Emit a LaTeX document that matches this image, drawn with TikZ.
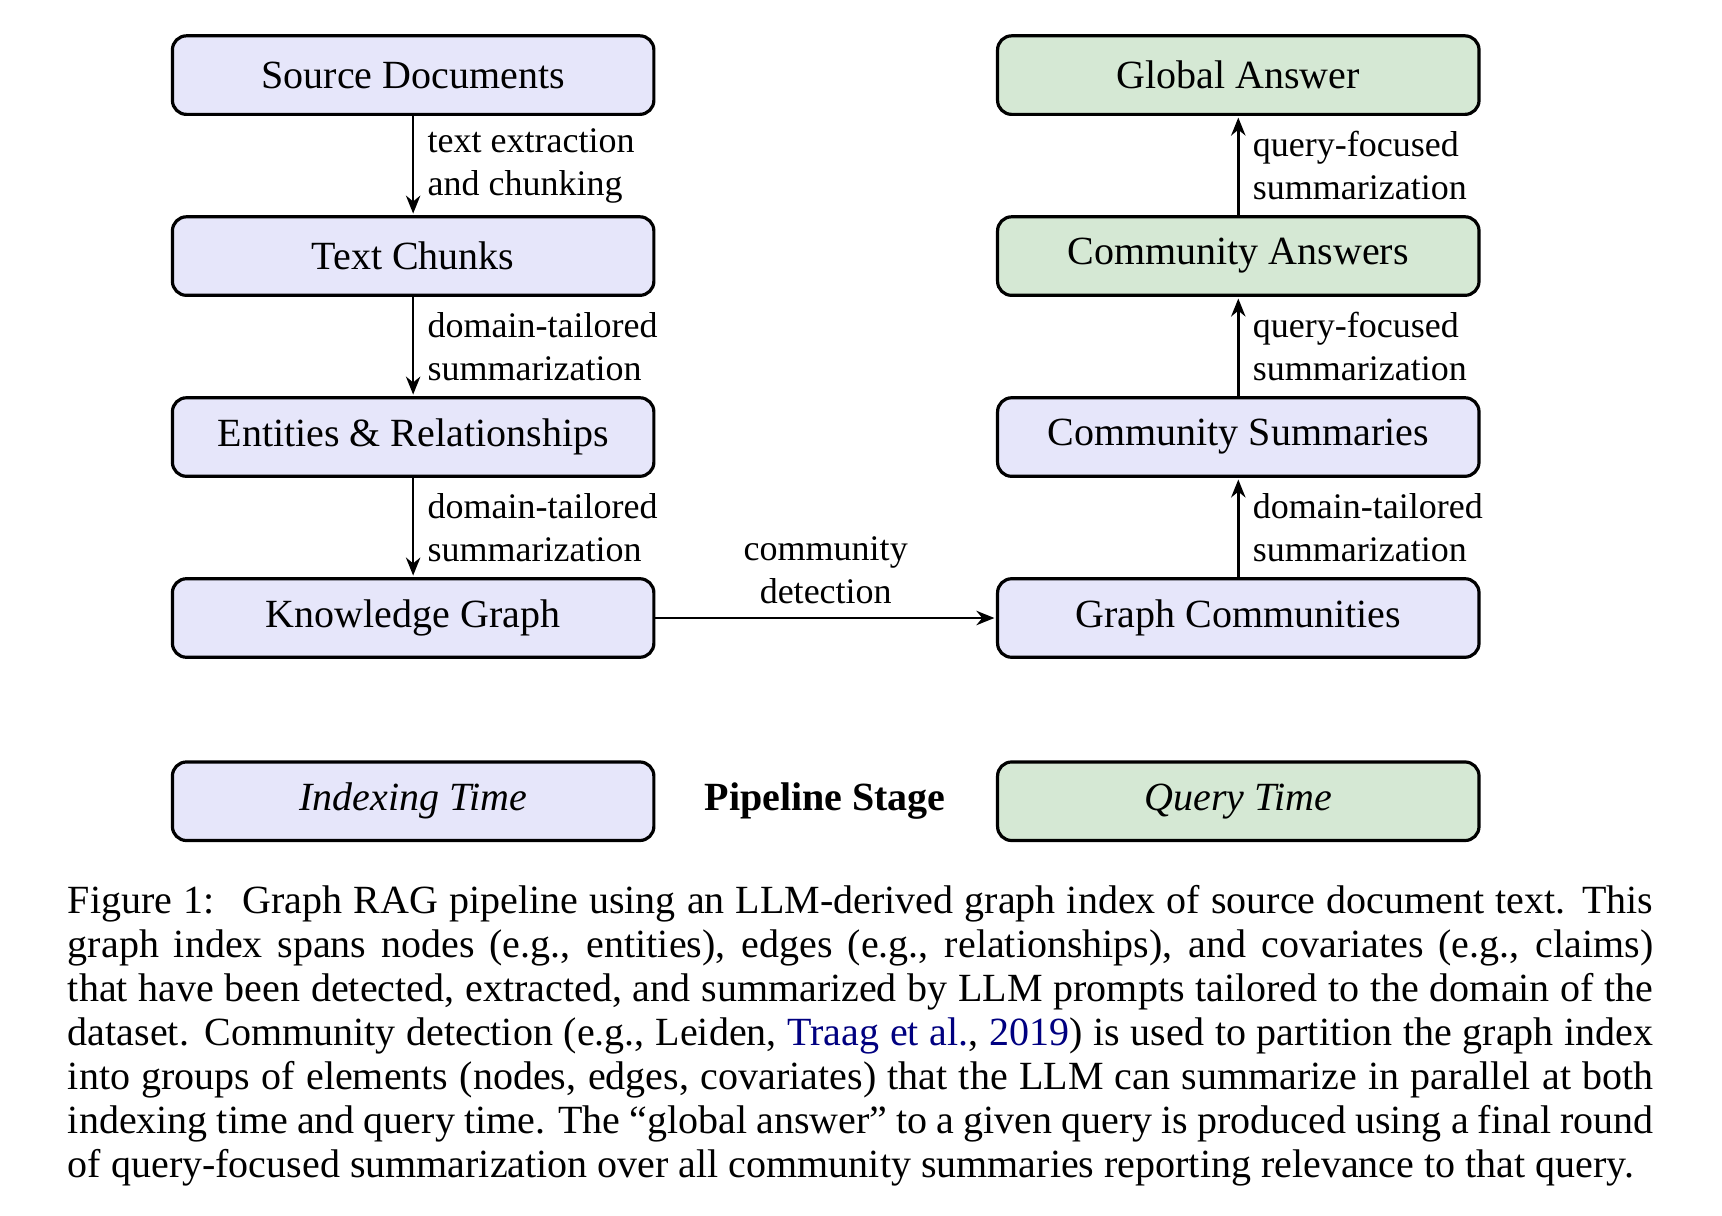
\documentclass[tikz,border=0pt]{standalone}
\usepackage{fontspec}
\setmainfont{Liberation Serif}
\usetikzlibrary{arrows.meta}
\definecolor{indexfill}{HTML}{E6E6FA}
\definecolor{queryfill}{HTML}{D5E8D4}
\definecolor{citeblue}{RGB}{0,0,128}

\begin{document}
\begin{tikzpicture}[
    >={Stealth[length=4.5pt,width=3.6pt]},
    stage/.style={draw, thick, rounded corners=3.5pt, minimum width=4.23cm,
        minimum height=0.69cm, font=\fontsize{10}{12}\selectfont},
    indexbox/.style={stage, fill=indexfill},
    querybox/.style={stage, fill=queryfill},
    flowlbl/.style={align=left, font=\fontsize{9}{10.7}\selectfont},
    flow/.style={->, semithick, shorten >=0.4pt}
]
    \useasboundingbox (0,0) rectangle (15.13,10.68);

    % Indexing side
    \node[indexbox] (docs) at (3.63,10.02) {Source Documents};
    \node[indexbox] (chunks) at (3.63,8.43) {Text Chunks};
    \node[indexbox] (elements) at (3.63,6.84) {Entities \& Relationships};
    \node[indexbox] (graph) at (3.63,5.25) {Knowledge Graph};

    % Query side
    \node[querybox] (global) at (10.88,10.02) {Global Answer};
    \node[querybox] (answers) at (10.88,8.43) {Community Answers};
    \node[indexbox] (summaries) at (10.88,6.84) {Community Summaries};
    \node[indexbox] (communities) at (10.88,5.25) {Graph Communities};

    % Arrows down the indexing side
    \draw[flow] (docs) -- (chunks)
          node[right, midway, flowlbl] {text extraction\\and chunking};
    \draw[flow] (chunks) -- (elements)
          node[right, midway, flowlbl] {domain-tailored\\summarization};
    \draw[flow] (elements) -- (graph)
          node[right, midway, flowlbl] {domain-tailored\\summarization};

    % Across and up the query side
    \draw[flow] (graph) -- (communities)
          node[above, midway, flowlbl, align=center] {community\\detection};
    \draw[flow] (communities) -- (summaries)
          node[right, midway, flowlbl] {domain-tailored\\summarization};
    \draw[flow] (summaries) -- (answers)
          node[right, midway, flowlbl] {query-focused\\summarization};
    \draw[flow] (answers) -- (global)
          node[right, midway, flowlbl] {query-focused\\summarization};

    % Legend
    \node[indexbox] (idxtime) at (3.63,3.64) {\itshape Indexing Time};
    \node[font=\fontsize{10}{12}\selectfont\bfseries] (stagelbl) at (7.25,3.64) {Pipeline Stage};
    \node[querybox] (qrytime) at (10.88,3.64) {\itshape Query Time};

    % Caption
    \node[anchor=north west, inner sep=0pt, text width=13.93cm, align=justify,
          font=\fontsize{10}{11}\selectfont] (caption) at (0.59,2.91)
    {Figure 1:\hspace{0.7em}Graph RAG pipeline using an LLM-derived graph index of source document text. This\linebreak
     graph index spans nodes (e.g., entities), edges (e.g., relationships), and covariates (e.g., claims)\linebreak
     that have been detected, extracted, and summarized by LLM prompts tailored to the domain of the\linebreak
     dataset. Community detection (e.g., Leiden, \textcolor{citeblue}{Traag et al.}, \textcolor{citeblue}{2019}) is used to partition the graph index\linebreak
     into groups of elements (nodes, edges, covariates) that the LLM can summarize in parallel at both\linebreak
     indexing time and query time. The “global answer” to a given query is produced using a final round\linebreak
     of query-focused summarization over all community summaries reporting relevance to that query.};
\end{tikzpicture}
\end{document}
